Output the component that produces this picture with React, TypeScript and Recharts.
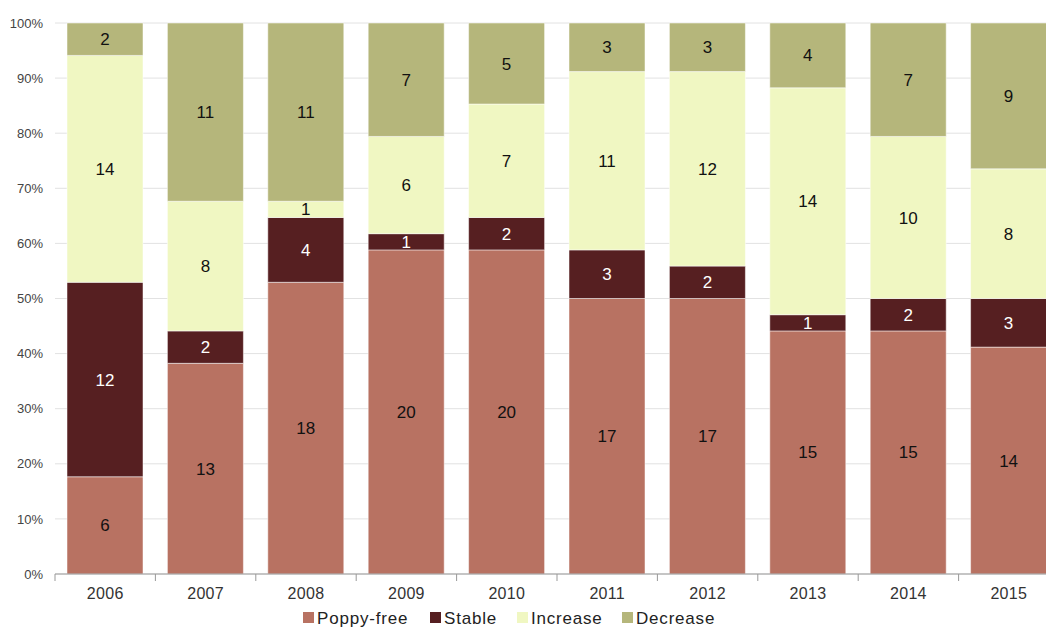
import { BarChart, Bar, XAxis, YAxis, CartesianGrid, LabelList } from "recharts";

const years = ["2006", "2007", "2008", "2009", "2010", "2011", "2012", "2013", "2014", "2015"];
const poppyFree = [6, 13, 18, 20, 20, 17, 17, 15, 15, 14];
const stable = [12, 2, 4, 1, 2, 3, 2, 1, 2, 3];
const increase = [14, 8, 1, 6, 7, 11, 12, 14, 10, 8];
const decrease = [2, 11, 11, 7, 5, 3, 3, 4, 7, 9];
const yTicks = [0, 0.1, 0.2, 0.3, 0.4, 0.5, 0.6, 0.7, 0.8, 0.9, 1];

const seriesNames = ["Poppy-free", "Stable", "Increase", "Decrease"];
const seriesColors = ["#b87262", "#561f21", "#f0f7c2", "#b5b67b"];
const legendStarts = [303, 430, 517, 622];

const data = years.map((year, i) => ({
    year,
    poppyFree: poppyFree[i],
    stable: stable[i],
    increase: increase[i],
    decrease: decrease[i]
}));

const FONT = "Liberation Sans, Arial, sans-serif";
const BAND = 100.4;

const XTick = (props: any) => {
    const { x, y, payload, index } = props;
    const left = x - BAND / 2;
    return (
        <g>
            <line x1={left} y1={y - 8} x2={left} y2={y - 1} stroke="#999" />
            {index === years.length - 1 && (
                <line x1={left + BAND} y1={y - 8} x2={left + BAND} y2={y - 1} stroke="#999" />
            )}
            <text x={x} y={y + 17} textAnchor="middle" fontSize={16} letterSpacing={0.3} fill="#333" fontFamily={FONT}>
                {payload.value}
            </text>
        </g>
    );
};

const ChartLegend = () => (
    <svg width={1046} height={30} style={{ position: "absolute", top: 597, left: 0 }}>
        {seriesNames.map((name, i) => (
            <g key={name}>
                <rect x={legendStarts[i]} y={15} width={11} height={11} fill={seriesColors[i]} />
                <text x={legendStarts[i] + 14} y={27} fontSize={17} letterSpacing={0.8} fill="#222" fontFamily={FONT}>
                    {name}
                </text>
            </g>
        ))}
    </svg>
);

const App = () => (
    <div style={{ width: 1046, height: 627, overflow: "hidden", position: "relative" }}>
        <style>{"html,body{margin:0;padding:0;overflow:hidden;}"}</style>
        <BarChart
            width={1060}
            height={627}
            data={data}
            stackOffset="expand"
            margin={{ top: 23, right: 1, left: 0, bottom: 0 }}
        >
            <CartesianGrid vertical={false} stroke="#e2e2e2" />
            <XAxis
                dataKey="year"
                height={53}
                stroke="#999"
                tickLine={false}
                tick={<XTick />}
                interval={0}
            />
            <YAxis
                width={55}
                ticks={yTicks}
                domain={[0, 1]}
                tickFormatter={(v: number) => `${Math.round(v * 100)}%`}
                axisLine={false}
                tickLine={false}
                tick={{ fontSize: 13, fill: "#444", fontFamily: FONT }}
                tickMargin={6}
            />
            <Bar dataKey="poppyFree" name="Poppy-free" stackId="a" fill={seriesColors[0]} stroke="#ffffff" strokeWidth={0.5} barSize={76} isAnimationActive={false}>
                <LabelList dataKey="poppyFree" position="center" fill="#111" fontSize={17} fontFamily={FONT} />
            </Bar>
            <Bar dataKey="stable" name="Stable" stackId="a" fill={seriesColors[1]} stroke="#ffffff" strokeWidth={0.5} barSize={76} isAnimationActive={false}>
                <LabelList dataKey="stable" position="center" fill="#ffffff" fontSize={17} fontFamily={FONT} />
            </Bar>
            <Bar dataKey="increase" name="Increase" stackId="a" fill={seriesColors[2]} stroke="#ffffff" strokeWidth={0.5} barSize={76} isAnimationActive={false}>
                <LabelList dataKey="increase" position="center" fill="#111" fontSize={17} fontFamily={FONT} />
            </Bar>
            <Bar dataKey="decrease" name="Decrease" stackId="a" fill={seriesColors[3]} stroke="#ffffff" strokeWidth={0.5} barSize={76} isAnimationActive={false}>
                <LabelList dataKey="decrease" position="center" fill="#111" fontSize={17} fontFamily={FONT} />
            </Bar>
        </BarChart>
        <ChartLegend />
    </div>
);

export default App;
